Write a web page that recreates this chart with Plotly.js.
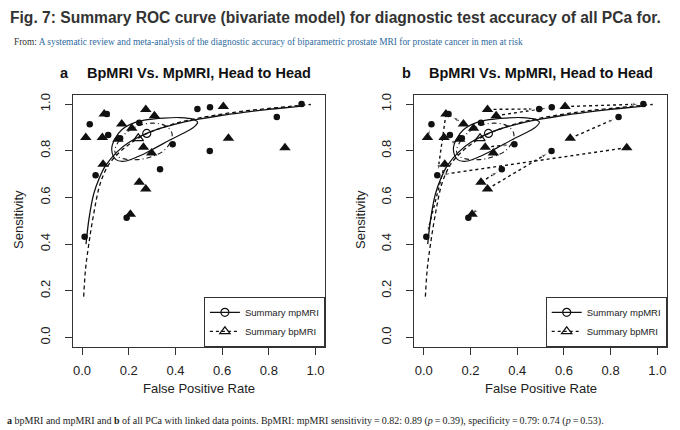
<!DOCTYPE html>
<html><head><meta charset="utf-8">
<script src="https://cdn.plot.ly/plotly-3.0.1.min.js"></script>
<style>html,body{margin:0;padding:0;background:#fff;}#chart{width:680px;height:430px;}</style>
</head><body><div id="chart"></div>
<script>
// ---- study-level points (false positive rate, sensitivity) ----
const mpFpr  = [0.033, 0.112, 0.106, 0.245, 0.163, 0.494, 0.548, 0.940, 0.834, 0.388, 0.547, 0.334, 0.058, 0.011, 0.191];
const mpSens = [0.913, 0.867, 0.957, 0.920, 0.853, 0.979, 0.986, 1.000, 0.944, 0.828, 0.799, 0.721, 0.695, 0.431, 0.513];
const bpFpr  = [0.016, 0.087, 0.095, 0.170, 0.213, 0.273, 0.310, 0.605, 0.627, 0.869, 0.263, 0.298, 0.090, 0.245, 0.273, 0.207, 0.154];
const bpSens = [0.857, 0.857, 0.957, 0.914, 0.896, 0.977, 0.950, 0.989, 0.853, 0.813, 0.815, 0.790, 0.742, 0.665, 0.636, 0.528, 0.849];
// linked pairs for panel b (bpMRI index -> mpMRI index)
const linkFromBp = [0, 1, 3, 4, 16, 5, 6, 7, 8, 9, 10, 12, 13, 14, 15, 2];
const linkToMp   = [0, 1, 2, 3, 4, 5, 6, 7, 8, 12, 9, 13, 11, 10, 14, 12];
// ---- summary points ----
const sumMpFpr = [0.277], sumMpSens = [0.874];
const sumBpFpr = [0.241], sumBpSens = [0.853];
// ---- SROC curves ----
const srocMpFpr  = [0.017, 0.030, 0.050, 0.075, 0.100, 0.150, 0.200, 0.300, 0.400, 0.500, 0.600, 0.700, 0.800, 0.900, 0.950];
const srocMpSens = [0.400, 0.510, 0.615, 0.685, 0.735, 0.795, 0.835, 0.884, 0.914, 0.935, 0.952, 0.965, 0.977, 0.987, 0.992];
const srocBpFpr  = [0.007, 0.015, 0.029, 0.050, 0.078, 0.114, 0.157, 0.200, 0.245, 0.300, 0.400, 0.500, 0.600, 0.700, 0.800, 0.900, 0.980];
const srocBpSens = [0.175, 0.293, 0.400, 0.530, 0.660, 0.740, 0.790, 0.826, 0.856, 0.883, 0.917, 0.940, 0.957, 0.971, 0.981, 0.991, 0.998];
// ---- confidence regions ----
const ellMpFpr  = [0.127, 0.140, 0.170, 0.220, 0.280, 0.350, 0.420, 0.475, 0.495, 0.480, 0.440, 0.380, 0.310, 0.240, 0.180, 0.145, 0.127];
const ellMpSens = [0.805, 0.850, 0.890, 0.918, 0.933, 0.940, 0.942, 0.935, 0.922, 0.902, 0.878, 0.848, 0.810, 0.775, 0.755, 0.762, 0.805];
const ellBpFpr  = [0.140, 0.160, 0.200, 0.250, 0.310, 0.360, 0.385, 0.380, 0.350, 0.300, 0.240, 0.180, 0.150, 0.140];
const ellBpSens = [0.800, 0.845, 0.885, 0.910, 0.918, 0.905, 0.875, 0.840, 0.800, 0.775, 0.762, 0.765, 0.778, 0.800];
// ---- axis ticks ----
const tickVals = [0, 0.2, 0.4, 0.6, 0.8, 1.0];
const tickText = ['0.0', '0.2', '0.4', '0.6', '0.8', '1.0'];

const INK = '#111';
function panelTraces(xa, ya, leg, withLinks) {
  const t = [];
  if (withLinks) {
    const lx = [], ly = [], sz = [];
    for (let k = 0; k < linkFromBp.length; k++) {
      const i = linkFromBp[k], j = linkToMp[k];
      lx.push(bpFpr[i], mpFpr[j], null);
      ly.push(bpSens[i], mpSens[j], null);
      sz.push(0, 6, 0);
    }
    t.push({x: lx, y: ly, xaxis: xa, yaxis: ya, mode: 'lines+markers', showlegend: false, hoverinfo: 'skip',
      line: {color: INK, width: 1.4, dash: 'dot'},
      marker: {symbol: 'arrow', size: sz, color: INK, angleref: 'previous', standoff: 5}});
  }
  t.push({x: srocMpFpr, y: srocMpSens, xaxis: xa, yaxis: ya, mode: 'lines', showlegend: false,
    line: {color: INK, width: 1.3, shape: 'spline'}});
  t.push({x: srocBpFpr, y: srocBpSens, xaxis: xa, yaxis: ya, mode: 'lines', showlegend: false,
    line: {color: INK, width: 1.3, dash: '4px,3px', shape: 'spline'}});
  t.push({x: ellMpFpr, y: ellMpSens, xaxis: xa, yaxis: ya, mode: 'lines', showlegend: false,
    line: {color: INK, width: 1.2, shape: 'spline'}});
  t.push({x: ellBpFpr, y: ellBpSens, xaxis: xa, yaxis: ya, mode: 'lines', showlegend: false,
    line: {color: INK, width: 1.1, dash: '5px,3px,1px,3px', shape: 'spline'}});
  t.push({x: bpFpr, y: bpSens, xaxis: xa, yaxis: ya, mode: 'markers', showlegend: false,
    marker: {symbol: 'triangle-up', size: 10, color: INK}});
  t.push({x: mpFpr, y: mpSens, xaxis: xa, yaxis: ya, mode: 'markers', showlegend: false,
    marker: {symbol: 'circle', size: 6.5, color: INK}});
  t.push({x: sumMpFpr, y: sumMpSens, xaxis: xa, yaxis: ya, mode: 'lines+markers', name: 'Summary mpMRI', legend: leg,
    line: {color: INK, width: 1.3}, marker: {symbol: 'circle-open', size: 8, color: INK, line: {width: 1.2}}});
  t.push({x: sumBpFpr, y: sumBpSens, xaxis: xa, yaxis: ya, mode: 'lines+markers', name: 'Summary bpMRI', legend: leg,
    line: {color: INK, width: 1.3, dash: '3px,3px'}, marker: {symbol: 'triangle-up-open', size: 9, color: INK, line: {width: 1.2}}});
  return t;
}

const traces = panelTraces('x', 'y', 'legend', false).concat(panelTraces('x2', 'y2', 'legend2', true));

const W = 680, H = 430;
const domA = [72.7 / W, 324.9 / W];
const domB = [414.4 / W, 666.7 / W];
const domY = [1 - 346.8 / H, 1 - 94.7 / H];
const tickFont = {family: 'Liberation Sans, Arial, sans-serif', size: 13, color: '#222'};

function xAxis(dom, anchor) {
  return {domain: dom, anchor: anchor, range: [-0.04, 1.04], showgrid: false, zeroline: false,
    showline: true, mirror: true, linecolor: '#333', linewidth: 1,
    ticks: 'outside', ticklen: 7, tickcolor: '#333', tickvals: tickVals, ticktext: tickText,
    tickfont: tickFont, ticklabelstandoff: 5};
}
function yAxis(anchor) {
  return {domain: domY, anchor: anchor, range: [-0.04, 1.04], showgrid: false, zeroline: false,
    showline: true, mirror: true, linecolor: '#333', linewidth: 1,
    ticks: 'outside', ticklen: 7, tickcolor: '#333', tickvals: tickVals, ticktext: tickText,
    tickfont: tickFont, tickangle: -90, ticklabelstandoff: 10};
}
function legendBox(dom) {
  return {x: dom[1], xanchor: 'right', y: domY[0], yanchor: 'bottom', bgcolor: '#fff',
    bordercolor: '#333', borderwidth: 1, font: {family: 'Liberation Sans, Arial, sans-serif', size: 9.5, color: '#222'},
    itemwidth: 30, tracegroupgap: 0, traceorder: 'normal'};
}

const sans = 'Liberation Sans, Arial, sans-serif';
const serif = 'Liberation Serif, Times New Roman, serif';
const ann = [];
function A(text, x, y, opts) { ann.push(Object.assign({text: text, x: x / W, y: 1 - y / H, xref: 'paper', yref: 'paper', showarrow: false}, opts)); }

A('<b>Fig. 7: Summary ROC curve (bivariate model) for diagnostic test accuracy of all PCa for.</b>', 8, 17,
  {xanchor: 'left', yanchor: 'middle', font: {family: sans, size: 15.6, color: '#333'}});
A('From: <span style="color:#2f6ba0">A systematic review and meta-analysis of the diagnostic accuracy of biparametric prostate MRI for prostate cancer in men at risk</span>', 12, 42,
  {xanchor: 'left', yanchor: 'middle', font: {family: serif, size: 9.4, color: '#333'}});
const cA = (domA[0] + domA[1]) / 2 * W, cB = (domB[0] + domB[1]) / 2 * W;
const tFont = {family: sans, size: 14.5, color: '#111'};
A('<b>a</b>', 64, 73, {xanchor: 'center', yanchor: 'middle', font: tFont});
A('<b>BpMRI Vs. MpMRI, Head to Head</b>', cA, 73, {xanchor: 'center', yanchor: 'middle', font: tFont});
A('<b>b</b>', 406, 73, {xanchor: 'center', yanchor: 'middle', font: tFont});
A('<b>BpMRI Vs. MpMRI, Head to Head</b>', cB, 73, {xanchor: 'center', yanchor: 'middle', font: tFont});
A('Sensitivity', 18, 220, {xanchor: 'center', yanchor: 'middle', textangle: -90, font: {family: sans, size: 13, color: '#222'}});
A('Sensitivity', 360, 220, {xanchor: 'center', yanchor: 'middle', textangle: -90, font: {family: sans, size: 13, color: '#222'}});
A('False Positive Rate', cA, 388, {xanchor: 'center', yanchor: 'middle', font: {family: sans, size: 13, color: '#222'}});
A('False Positive Rate', cB, 388, {xanchor: 'center', yanchor: 'middle', font: {family: sans, size: 13, color: '#222'}});
A('<b>a</b> bpMRI and mpMRI and <b>b</b> of all PCa with linked data points. BpMRI: mpMRI sensitivity\u2009=\u20090.82: 0.89 (<i>p</i>\u2009=\u20090.39), specificity\u2009=\u20090.79: 0.74 (<i>p</i>\u2009=\u20090.53).', 5, 421,
  {xanchor: 'left', yanchor: 'middle', font: {family: serif, size: 10, color: '#222'}});

const layout = {
  width: W, height: H, margin: {l: 0, r: 0, t: 0, b: 0}, paper_bgcolor: '#fff', plot_bgcolor: '#fff',
  xaxis: xAxis(domA, 'y'), yaxis: yAxis('x'), xaxis2: xAxis(domB, 'y2'), yaxis2: yAxis('x2'),
  legend: legendBox(domA), legend2: legendBox(domB), annotations: ann, showlegend: true
};
Plotly.newPlot('chart', traces, layout, {staticPlot: true, displayModeBar: false});
</script></body></html>
